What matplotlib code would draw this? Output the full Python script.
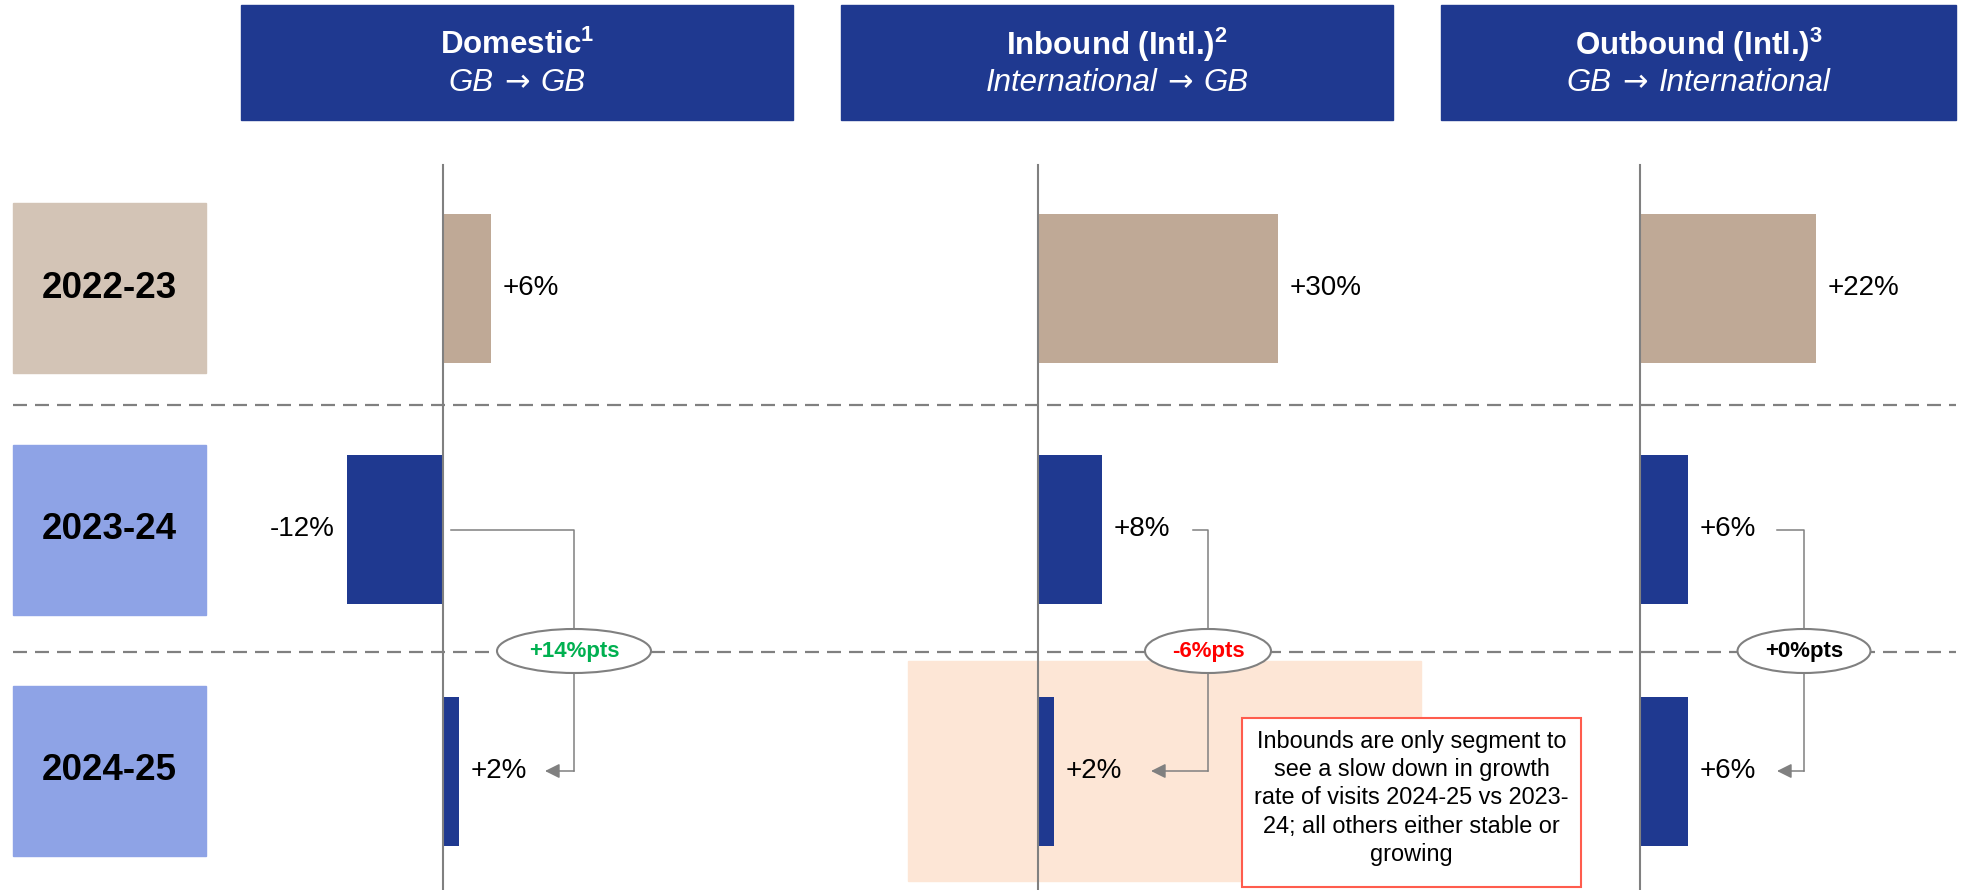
import matplotlib
matplotlib.use("Agg")
import matplotlib.pyplot as plt
from matplotlib.patches import Rectangle, Ellipse
from matplotlib.offsetbox import TextArea, HPacker, AnnotationBbox

plt.rcParams['font.family'] = ['Liberation Sans', 'DejaVu Sans']
plt.rcParams['mathtext.fontset'] = 'custom'
plt.rcParams['mathtext.rm'] = 'Liberation Sans'
plt.rcParams['mathtext.bf'] = 'Liberation Sans:bold'

# ========================
# data
# ========================
years = ["2022-23", "2023-24", "2024-25"]
segments = ["Domestic", "Inbound (Intl.)", "Outbound (Intl.)"]
footnotes = ["1", "2", "3"]
route_from = ["GB", "International", "GB"]
route_to = ["GB", "GB", "International"]
domestic = [6, -12, 2]
inbound = [30, 8, 2]
outbound = [22, 6, 6]
change_pts = [14, -6, 0]
note = ("Inbounds are only segment to\nsee a slow down in growth\n"
        "rate of visits 2024-25 vs 2023-\n24; all others either stable or\ngrowing")

# ========================
# layout (pixels)
# ========================
W, H = 1977, 890
PX = 8.0                       # pixels per percentage point
ROW0, STEP = 288.0, 241.5      # row centres
BAR_H = 149
zero_x = [443, 1038, 1640]
header_x = [(241, 793), (841, 1393), (1441, 1956)]
sep_y = [405, 652]
# connector: start x, corner x, arrow tip x, ellipse width
connectors = [(451, 574, 545, 154), (1193, 1208, 1151, 126), (1777, 1804, 1777, 133)]

NAVY = "#1f3990"
TAN = "#bfa996"
GREY = "#808080"
bar_colors = [TAN, NAVY, NAVY]
year_colors = ["#d3c4b6", "#8ea3e6", "#8ea3e6"]

fig = plt.figure(figsize=(W / 100, H / 100), dpi=100)

ov = fig.add_axes([0, 0, 1, 1], zorder=0)
ov.set_xlim(0, W)
ov.set_ylim(H, 0)
ov.axis("off")

# headers
for (x0, x1), seg, fn, a, b in zip(header_x, segments, footnotes, route_from, route_to):
    ov.add_patch(Rectangle((x0, 5), x1 - x0, 115, color=NAVY))
    xc = (x0 + x1) / 2
    ov.text(xc, 45, seg + r"$^{\mathbf{" + fn + "}}$", color="white",
            fontsize=22.5, fontweight="bold", ha="center", va="center")
    ital = dict(color="white", fontsize=22.5, fontstyle="italic")
    route = HPacker(children=[TextArea(a, textprops=ital),
                              TextArea("→", textprops=dict(color="white", fontsize=22,
                                                           family="DejaVu Sans")),
                              TextArea(b, textprops=ital)],
                    align="baseline", pad=0, sep=7.5)
    ov.add_artist(AnnotationBbox(route, (xc, 83), xycoords="data", frameon=False,
                                 pad=0, box_alignment=(0.5, 0.5)))

# year boxes
for i, (yr, c) in enumerate(zip(years, year_colors)):
    yc = ROW0 + STEP * i
    ov.add_patch(Rectangle((13, yc - 85), 193, 170, color=c))
    ov.text(109.5, yc, yr, fontsize=26.5, fontweight="bold", ha="center", va="center")

# separators
for y in sep_y:
    ov.plot([13, 1956], [y, y], color=GREY, lw=1.6, dashes=(6.3, 3.6), zorder=1)

# highlight behind inbound 2024-25
ov.add_patch(Rectangle((908, 661), 513, 220, color="#fde6d6", zorder=0))

# change connectors
y_top, y_bot = ROW0 + STEP, ROW0 + 2 * STEP
for (sx, cx, tx, ew), d in zip(connectors, change_pts):
    ov.plot([sx, cx, cx], [y_top, y_top, y_bot], color=GREY, lw=1.1, zorder=2)
    ov.annotate("", xy=(tx, y_bot), xytext=(cx, y_bot),
                arrowprops=dict(arrowstyle="-|>", color=GREY, lw=1.1,
                                mutation_scale=22, shrinkA=0, shrinkB=0), zorder=2)
    ov.add_patch(Ellipse((cx, sep_y[1] - 1), ew, 44, facecolor="white",
                         edgecolor=GREY, lw=1.5, zorder=3))
    col = "#00b050" if d > 0 else ("#ff0000" if d < 0 else "black")
    ov.text(cx, sep_y[1] - 1, f"{d:+d}%pts", color=col, fontsize=16,
            fontweight="bold", ha="center", va="center", zorder=4)

# note box
ov.add_patch(Rectangle((1242, 718), 339, 169, facecolor="white",
                       edgecolor="#ff5c4d", lw=1.5, zorder=3))
ov.text(1411.5, 798, note, fontsize=16.9, ha="center", va="center",
        linespacing=1.28, zorder=4)

# ========================
# bars
# ========================
for x0, vals in zip(zero_x, [domestic, inbound, outbound]):
    ax = fig.add_axes([0, 0, 1, 1], zorder=1)
    ax.patch.set_visible(False)
    ax.axis("off")
    ax.set_xlim(-x0 / PX, (W - x0) / PX)
    ax.set_ylim((H - ROW0) / STEP, -ROW0 / STEP)
    ax.barh(range(len(years)), vals, height=BAR_H / STEP, color=bar_colors)
    ax.axvline(0, ymin=0, ymax=1 - 165 / H, color=GREY, lw=1.5)
    for i, v in enumerate(vals):
        off = 8.6 if v >= 0 else -8.6
        ax.annotate(f"{v:+d}%", xy=(v, i), xytext=(off, 0), textcoords="offset points",
                    ha="left" if v >= 0 else "right", va="center", fontsize=20)

fig.savefig("out.png", dpi=100)
